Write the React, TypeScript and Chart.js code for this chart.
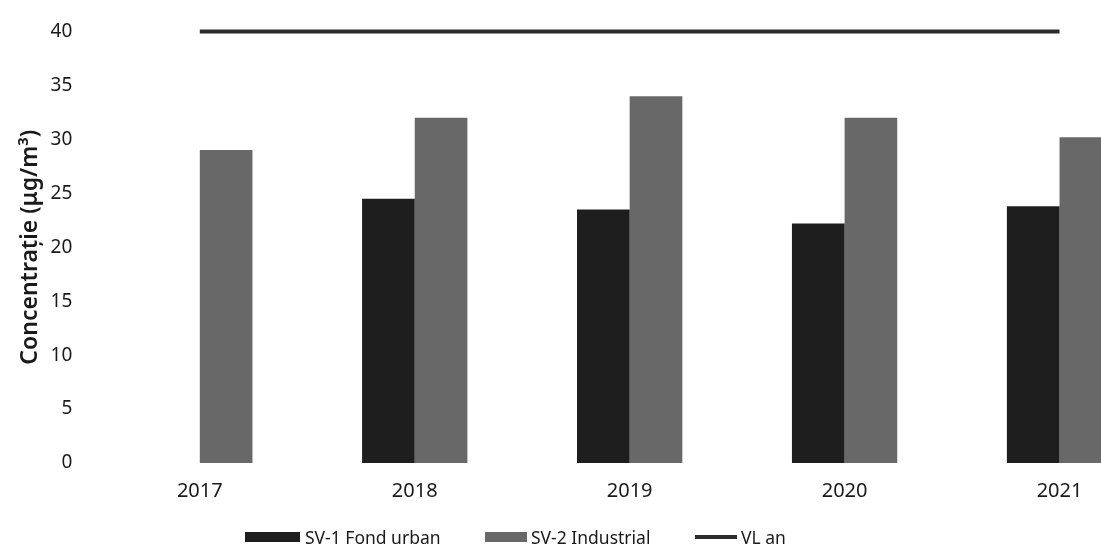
import React, { useEffect, useRef } from "react";
import { Chart, registerables } from "chart.js";

Chart.register(...registerables);

const years = ["2017", "2018", "2019", "2020", "2021"];
const sv1FondUrban: (number | null)[] = [null, 24.5, 23.5, 22.2, 23.8];
const sv2Industrial = [29, 32, 34, 32, 30.2];
const vlAn = [40, 40, 40, 40, 40];
const seriesNames = ["SV-1 Fond urban", "SV-2 Industrial", "VL an"];
const yMin = 0;
const yMax = 40;
const yStep = 5;
const yTitle = "Concentrație (μg/m³)";

const FONT = "'Noto Sans', 'Open Sans', sans-serif";
const C1 = "#1e1e1e";
const C2 = "#686868";
const CL = "#2b2b2b";

export default function App() {
  const ref = useRef<HTMLCanvasElement | null>(null);

  useEffect(() => {
    document.body.style.margin = "0";
    document.body.style.overflow = "hidden";
    const canvas = ref.current;
    if (!canvas) return;
    const chart = new Chart(canvas, {
      type: "bar",
      data: {
        labels: years,
        datasets: [
          {
            type: "line",
            label: seriesNames[2],
            data: vlAn,
            borderColor: CL,
            borderWidth: 4,
            pointRadius: 0,
            fill: false,
            clip: false,
            order: 0,
          } as any,
          {
            label: seriesNames[0],
            data: sv1FondUrban,
            backgroundColor: C1,
            categoryPercentage: 0.49,
            barPercentage: 1,
            order: 1,
          },
          {
            label: seriesNames[1],
            data: sv2Industrial,
            backgroundColor: C2,
            categoryPercentage: 0.49,
            barPercentage: 1,
            order: 1,
          },
        ],
      },
      options: {
        responsive: false,
        animation: false,
        devicePixelRatio: 1,
        layout: { padding: { top: 2, bottom: 23, left: 13, right: 4 } },
        plugins: {
          legend: { display: false },
          tooltip: { enabled: false },
        },
        scales: {
          x: {
            grid: { display: false, drawTicks: false },
            border: { display: false },
            ticks: {
              color: "#1a1a1a",
              font: { family: FONT, size: 20 },
              padding: 16,
            },
          },
          y: {
            min: yMin,
            max: yMax,
            grid: { display: false, drawTicks: false },
            border: { display: false },
            ticks: {
              stepSize: yStep,
              color: "#1a1a1a",
              font: { family: FONT, size: 19 },
              padding: 20,
            },
            title: {
              display: true,
              text: yTitle,
              color: "#1a1a1a",
              font: { family: FONT, size: 23, weight: 600 },
              padding: { top: 4, bottom: -14 },
            },
          },
        },
      },
    });
    return () => chart.destroy();
  }, []);

  const legendText: React.CSSProperties = {
    position: "absolute",
    top: 0,
    fontFamily: FONT,
    fontSize: 17.5,
    lineHeight: "22px",
    color: "#1a1a1a",
    whiteSpace: "nowrap",
  };

  return (
    <div style={{ position: "relative", width: 1101, height: 558, overflow: "hidden" }}>
      <canvas ref={ref} width={1171} height={542} style={{ display: "block" }} />
      <div style={{ position: "absolute", left: 0, top: 526, width: 1101, height: 22 }}>
        <span style={{ position: "absolute", left: 245, top: 6, width: 55, height: 10, background: C1 }} />
        <span style={{ ...legendText, left: 305 }}>{seriesNames[0]}</span>
        <span style={{ position: "absolute", left: 485, top: 6, width: 42, height: 10, background: C2 }} />
        <span style={{ ...legendText, left: 531 }}>{seriesNames[1]}</span>
        <span style={{ position: "absolute", left: 695, top: 9, width: 42, height: 4, background: CL }} />
        <span style={{ ...legendText, left: 741 }}>{seriesNames[2]}</span>
      </div>
    </div>
  );
}
